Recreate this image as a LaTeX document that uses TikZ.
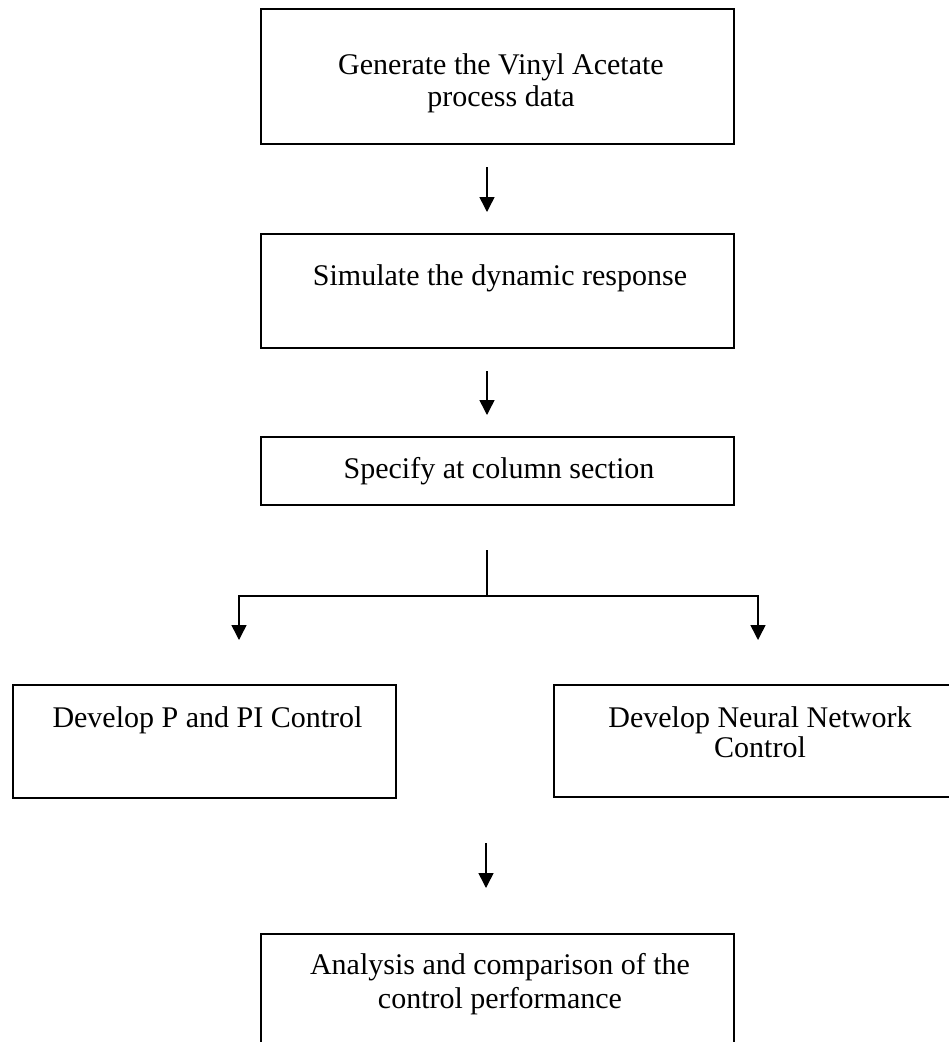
\documentclass[tikz,border=0pt]{standalone}
\usepackage{fontspec}
\setmainfont{Liberation Serif}
\usetikzlibrary{arrows.meta}
\newcommand\mytightls{\lineskiplimit=-20pt\relax}
\begin{document}
\begin{tikzpicture}[x=1pt,y=-1pt,
  box/.style={draw, line width=1.6pt, inner sep=0pt},
  txt/.style={align=center, inner sep=0pt, anchor=north, font=\fontsize{30}{32}\selectfont},
  arr/.style={line width=1.5pt, -{Triangle[width=15pt,length=15pt]}},
  ln/.style={line width=1.5pt}]
\useasboundingbox (0,0) rectangle (949,1042);
\clip (0,0) rectangle (949,1042);
\fill[white] (0,0) rectangle (949,1042);
% boxes
\node[box, minimum width=473pt, minimum height=135pt] (b1) at (497.5,76.5) {};
\node[box, minimum width=473pt, minimum height=114pt] (b2) at (497.5,291) {};
\node[box, minimum width=473pt, minimum height=68pt] (b3) at (497.5,471) {};
\node[box, minimum width=383pt, minimum height=113pt] (b4) at (204.5,741.5) {};
\node[box, minimum width=404pt, minimum height=112pt] (b5) at (756,741) {};
\node[box, minimum width=473pt, minimum height=136pt] (b6) at (497.5,1002) {};
% texts
\node[txt] (t1) at (501,52) {\rule{0pt}{22pt}Generate the Vinyl Acetate\\process data};
\node[txt] (t2) at (500,263) {\rule{0pt}{22pt}Simulate the dynamic response};
\node[txt] (t3) at (499,456) {\rule{0pt}{22pt}Specify at column section};
\node[txt] (t4) at (207.5,705) {\rule{0pt}{22pt}Develop P and PI Control};
\node[txt, font={\fontsize{30}{30}\selectfont\mytightls}] (t5) at (760,705) {\rule{0pt}{22pt}Develop Neural Network\\Control};
\node[txt, font={\fontsize{30}{34}\selectfont}] (t6) at (500,952) {\rule{0pt}{22pt}Analysis and comparison of the\\control performance};
% connector coordinates
\coordinate (a1s) at (487,167);
\coordinate (a1e) at (487,212);
\coordinate (a2s) at (487,371);
\coordinate (a2e) at (487,415);
\coordinate (br0) at (487,550);
\coordinate (brm) at (487,596);
\coordinate (brle) at (239,640);
\coordinate (brre) at (758,640);
\coordinate (a3s) at (486,843);
\coordinate (a3e) at (486,888);
% connectors
\draw[arr] (a1s) -- (a1e);
\draw[arr] (a2s) -- (a2e);
\draw[ln] (br0) -- (brm);
\draw[arr] (brm) -| (brle);
\draw[arr] (brm) -| (brre);
\draw[arr] (a3s) -- (a3e);
\end{tikzpicture}
\end{document}
